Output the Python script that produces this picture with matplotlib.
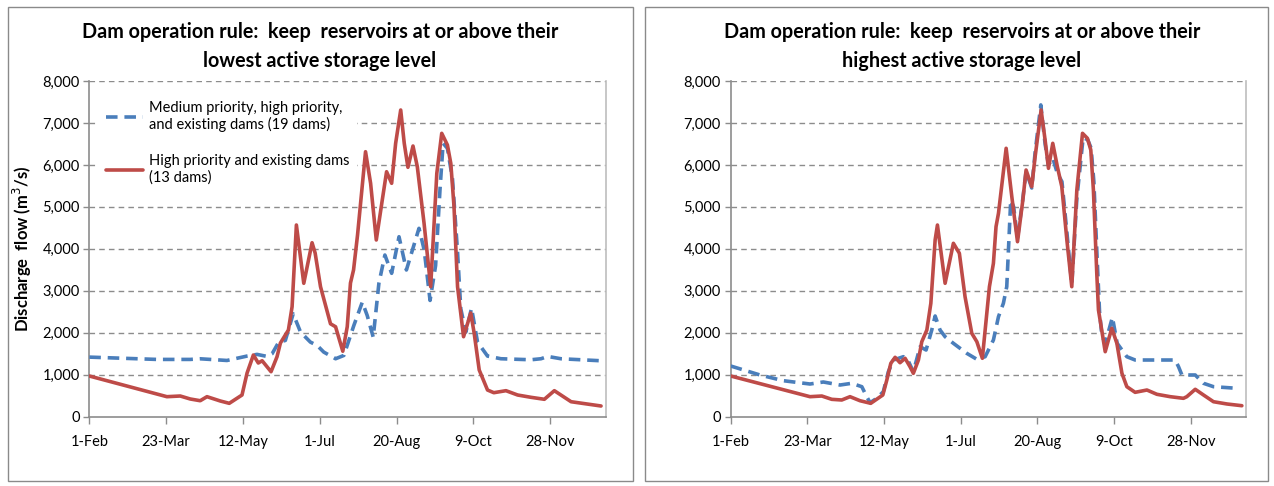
import matplotlib
matplotlib.use("Agg")
import matplotlib.pyplot as plt
from matplotlib.patches import Rectangle

FONT = ["Lato", "DejaVu Sans"]
plt.rcParams['font.family'] = FONT

# ---------------- data (day offset from 1-Feb, discharge m3/s) ----------------
tick_days = [0, 50, 100, 150, 200, 250, 300]
tick_labels = ['1-Feb', '23-Mar', '12-May', '1-Jul', '20-Aug', '9-Oct', '28-Nov']
y_ticks = [0, 1000, 2000, 3000, 4000, 5000, 6000, 7000, 8000]

titles = ["Dam operation rule:  keep  reservoirs at or above their\nlowest active storage level",
          "Dam operation rule:  keep  reservoirs at or above their\nhighest active storage level"]
series_labels = ["Medium priority, high priority,\nand existing dams (19 dams)",
                 "High priority and existing dams\n(13 dams)"]

# Left panel: lowest active storage level
low_blue_day = [0, 44, 65.7, 72.2, 89.6, 102.7, 109.2, 115.7, 119, 123.3, 127.6, 132.7,
                137.5, 143.9, 148.3, 152.6, 160.3, 165.7, 172.2, 177.7, 180.9, 184.8,
                188.5, 192.4, 196.8, 201.6, 206.4, 214.6, 218, 221.8, 225.4, 228.3,
                230.3, 233.1, 236.4, 239.7, 241.8, 245.1, 248.8, 252.7, 259.2, 267.9,
                287.5, 294, 298.4, 307, 333]
low_blue_q = [1420, 1365, 1365, 1380, 1340, 1445, 1485, 1436, 1500, 1778, 1817, 2452,
              2016, 1778, 1698, 1540, 1381, 1460, 2175, 2730, 2412, 1897,
              3179, 3853, 3417, 4289, 3496, 4489, 3972, 2770, 3600, 5430,
              6515, 6396, 5667, 3920, 2571, 2016, 2587, 1778, 1445, 1381,
              1357, 1381, 1436, 1381, 1333]

low_red_day = [0, 50.5, 59.2, 65.7, 72.2, 76.6, 85.3, 91.1, 99.4, 102.7, 106.8, 110,
               112.5, 118.3, 122.2, 124.4, 129.6, 132, 134.8, 139.6, 145, 147, 150.5,
               157, 160.3, 162.2, 165, 167.9, 170, 172, 174.6, 179.8, 183.1, 186.8,
               190.7, 193.5, 196.8, 199.4, 202.7, 205, 207.4, 210.7, 213.5, 217.9,
               222.2, 226.2, 229.4, 233.1, 235.3, 237.4, 239.7, 243.6, 248.3, 250.5,
               253.8, 259.2, 263.3, 271.2, 278.8, 287.5, 296.2, 302.7, 313.6, 333.1]
low_red_q = [970, 477, 493, 422, 381, 477, 374, 319, 517, 1041, 1470, 1280,
             1334, 1072, 1430, 1756, 2066, 2621, 4568, 3179, 4146, 3900, 3098,
             2214, 2143, 1906, 1560, 2145, 3186, 3496, 4330, 6315, 5562, 4211,
             5164, 5838, 5562, 6515, 7309, 6515, 5943, 6451, 5958, 4609,
             3098, 5800, 6753, 6475, 6038, 5004, 3098, 1906, 2471, 1995,
             1113, 636, 572, 620, 517, 462, 415, 620, 357, 255]

# Right panel: highest active storage level
high_blue_day = [0, 19.1, 34.3, 51.7, 60.4, 71.3, 78.9, 85.5, 88.7, 90.9, 95.2, 99.5,
                 102.8, 106.1, 112.6, 115.5, 119.1, 123.5, 127.4, 131.1, 133.3, 136.5,
                 139.8, 145.2, 153.9, 160.5, 165.9, 171.3, 174.6, 177.8, 180, 181.1,
                 182.6, 184.5, 187, 190.5, 192.6, 196.3, 198.5, 202.2, 205, 207.2, 210,
                 213, 216, 219.2, 222.4, 225.7, 229.8, 232.8, 235, 236.8, 238.9, 240.5,
                 242, 244.2, 248.9, 252, 258.3, 263.7, 289.8, 292, 294.2, 302.9, 308.3,
                 314.8, 330]
high_blue_q = [1208, 994, 858, 779, 827, 755, 796, 715, 477, 334, 438, 596,
               1072, 1351, 1430, 1351, 1072, 1668, 1589, 2066, 2400, 2066,
               1906, 1749, 1511, 1368, 1430, 1828, 2383, 2702, 3098, 3972,
               5164, 5000, 4250, 5200, 5850, 5450, 6300, 7430, 6500, 6000, 6165,
               5800, 5600, 4400, 3150, 5200, 6650, 6600, 6400, 5600, 3800, 2500,
               1947, 1749, 2369, 1749, 1430, 1351, 1351, 1192, 994, 994, 796,
               715, 677]

high_red_day = [0, 51.7, 59.4, 65.9, 72.4, 77.8, 84.3, 91.3, 99.2, 101.8, 104.4, 107.2,
                110.4, 113.7, 116.9, 119.1, 122.4, 124.6, 127.9, 130.5, 133.3, 134.8,
                139.8, 145.2, 149.1, 152.8, 157.2, 160.5, 164.1, 168.7, 171.3, 173,
                174.6, 179.6, 183.3, 187, 190.5, 192.6, 196.3, 198.5, 202.4, 205, 207.2,
                210, 213, 215.9, 219.2, 222.4, 225.7, 229.4, 232.6, 234.8, 236.5, 238.7,
                239.8, 244.2, 246.3, 248.5, 251.8, 255.1, 258.3, 263.7, 271.4, 277.9,
                286.6, 295.2, 297.4, 302.9, 308.3, 314.8, 323.6, 333.3]
high_red_q = [970, 477, 493, 414, 398, 477, 381, 319, 517, 875, 1272, 1415,
              1287, 1392, 1192, 1034, 1351, 1787, 2066, 2702, 4211, 4568,
              3179, 4132, 3894, 2860, 1987, 1787, 1392, 3098, 3655, 4528,
              4847, 6396, 5243, 4170, 5164, 5879, 5481, 6196, 7309, 6594, 5919,
              6515, 5958, 5481, 4211, 3098, 5402, 6753, 6634, 6356, 5402, 3417,
              2543, 1549, 1828, 2107, 1749, 1034, 715, 581, 636, 534,
              477, 438, 477, 653, 517, 357, 303, 262]

BLUE = '#4A7EBB'
RED = '#BE4B48'
GRID = '#8C8C8C'

fig = plt.figure(figsize=(12.74, 4.86), dpi=100)
W, H = 1274.0, 486.0

# panel frames
for (x0, x1) in [(8, 633), (645, 1268)]:
    fig.patches.append(Rectangle((x0 / W, 1 - 481 / H), (x1 - x0) / W, (481 - 7) / H,
                                 transform=fig.transFigure, fill=False,
                                 edgecolor='#8A8A8A', linewidth=1.0, zorder=0))

panels = [
    (89.3, 605.5, low_blue_day, low_blue_q, low_red_day, low_red_q, titles[0], 320, True),
    (730.7, 1246.0, high_blue_day, high_blue_q, high_red_day, high_red_q, titles[1], 962, False),
]

for (px0, px1, bd, bq, rd, rq, title, tx, has_legend) in panels:
    ax = fig.add_axes([px0 / W, 1 - 416.7 / H, (px1 - px0) / W, (416.7 - 81) / H])
    ax.set_xlim(0, 336)
    ax.set_ylim(0, 8000)
    ax.set_yticks(y_ticks)
    ax.set_yticklabels([f"{v:,}" for v in y_ticks], fontsize=10.5)
    ax.set_xticks(tick_days)
    ax.set_xticklabels(tick_labels, fontsize=10.5)
    ax.tick_params(axis='x', length=5, width=1, color=GRID, pad=8)
    ax.tick_params(axis='y', length=4, width=1, color=GRID, pad=3)
    for yv in y_ticks[1:]:
        ax.axhline(yv, color=GRID, linestyle=(0, (4, 3)), linewidth=1.0, zorder=1)
    for side in ['left', 'bottom', 'right']:
        ax.spines[side].set_color(GRID)
        ax.spines[side].set_linewidth(1.2)
    ax.spines['top'].set_visible(False)
    ax.spines['right'].set_color('#BDBDBD')

    lb, = ax.plot(bd, bq, color=BLUE, linewidth=2.6, linestyle=(0, (3.2, 1.9)),
                  zorder=3, label=series_labels[0], solid_joinstyle='round')
    lr, = ax.plot(rd, rq, color=RED, linewidth=2.6, zorder=4, label=series_labels[1],
                  solid_joinstyle='round', solid_capstyle='round')

    fig.text(tx / W, 1 - 46.5 / H, title, ha='center', va='center', fontsize=14.2,
             fontweight='bold', linespacing=1.55)

    if has_legend:
        leg = ax.legend(handles=[lb, lr], loc='upper left', bbox_to_anchor=(0.005, 0.985),
                        fontsize=10.5, frameon=True, facecolor='white', edgecolor='none',
                        framealpha=1.0, handlelength=2.5, handletextpad=0.4,
                        labelspacing=1.5, borderpad=0.5)
        leg.set_zorder(5)
        ax.set_ylabel("Discharge  flow (m$^3$/s)", fontsize=12, fontweight='bold', labelpad=6)

fig.savefig("out.png", dpi=100)
